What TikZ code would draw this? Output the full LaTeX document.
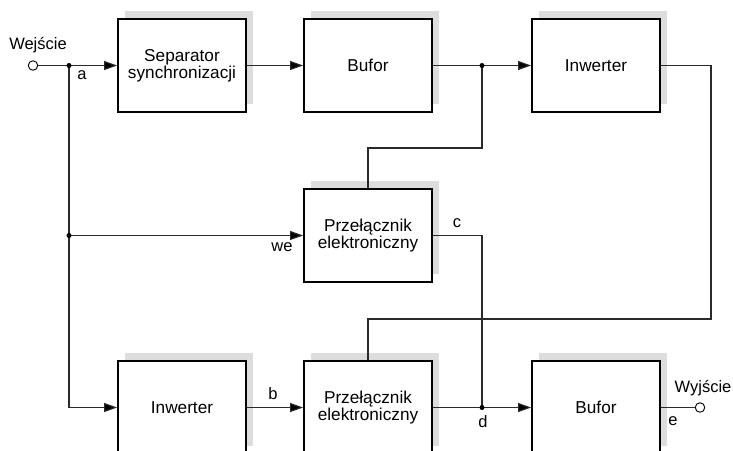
\documentclass[tikz,border=0pt]{standalone}
\usepackage{fontspec}
\setmainfont{Liberation Sans}
\usetikzlibrary{arrows.meta,shadows}
\definecolor{shadowgray}{HTML}{DDDDDD}
\definecolor{wirecol}{HTML}{2A2A2A}
\begin{document}
\begin{tikzpicture}[x=1pt,y=-1pt,
  blk/.style={draw=black,line width=1.8pt,fill=white,minimum width=128pt,minimum height=93pt,
    inner sep=0pt,align=center,font=\fontsize{17.2}{17}\selectfont,
    drop shadow={shadow xshift=7pt,shadow yshift=8pt,fill=shadowgray,opacity=1}},
  wire/.style={draw=wirecol,line width=1.1pt},
  arr/.style={wire,-{Triangle[length=13pt,width=9pt,fill=black]}},
  dot/.style={circle,fill=black,inner sep=0pt,minimum size=5pt},
  term/.style={circle,draw=black,fill=white,line width=0.9pt,inner sep=0pt,minimum size=9.5pt},
  lbl/.style={font=\fontsize{16.5}{17}\selectfont,inner sep=0pt}]
\useasboundingbox (0,0) rectangle (733,450);
% blocks
\node[blk] (sep) at (182,65.5) {Separator\\synchronizacji};
\node[blk] (buf1) at (368,65.5) {Bufor};
\node[blk] (inv1) at (596,65.5) {Inwerter};
\node[blk] (prz1) at (368,235.5) {Przełącznik\\elektroniczny};
\node[blk] (inv2) at (182,407.5) {Inwerter};
\node[blk] (prz2) at (368,407.5) {Przełącznik\\elektroniczny};
\node[blk] (buf2) at (596,407.5) {Bufor};
% terminals and junctions
\node[term] (in) at (33,65.5) {};
\node[term] (out) at (700,407.5) {};
\coordinate (a) at (69,65.5);
\coordinate (m) at (69,235.5);
\coordinate (bl) at (69,407.5);
\coordinate (j1) at (482,65.5);
\coordinate (t1) at (482,148);
\coordinate (r1) at (711,65.5);
\coordinate (r2) at (711,319);
\coordinate (c1) at (482,235.5);
\coordinate (d) at (482,407.5);
% wires
\draw[wire] (in) -- (a);
\draw[arr] (a) -- (sep.west);
\draw[arr] (sep.east) -- (buf1.west);
\draw[wire] (buf1.east) -- (j1);
\draw[arr] (j1) -- (inv1.west);
\draw[wire] (j1) -- (t1) -| (prz1.north);
\draw[wire] (inv1.east) -- (r1) -- (r2) -| (prz2.north);
\draw[wire] (a) -- (bl);
\draw[arr] (bl) -- (inv2.west);
\draw[arr] (m) -- (prz1.west);
\draw[arr] (inv2.east) -- (prz2.west);
\draw[wire] (prz1.east) -- (c1) -- (d);
\draw[wire] (prz2.east) -- (d);
\draw[arr] (d) -- (buf2.west);
\draw[wire] (buf2.east) -- (out);
\node[dot] (da) at (a) {};
\node[dot] (dm) at (m) {};
\node[dot] (dj) at (j1) {};
\node[dot] (dd) at (d) {};
% labels
\node[lbl] (lwe) at (38,45) {Wejście};
\node[lbl] (la) at (82,75) {a};
\node[lbl] (lwein) at (282,247) {we};
\node[lbl] (lc) at (457,223) {c};
\node[lbl] (lb) at (273,394) {b};
\node[lbl] (ld) at (483,422) {d};
\node[lbl] (lwy) at (703,388) {Wyjście};
\node[lbl] (le) at (673,421) {e};
\end{tikzpicture}
\end{document}
